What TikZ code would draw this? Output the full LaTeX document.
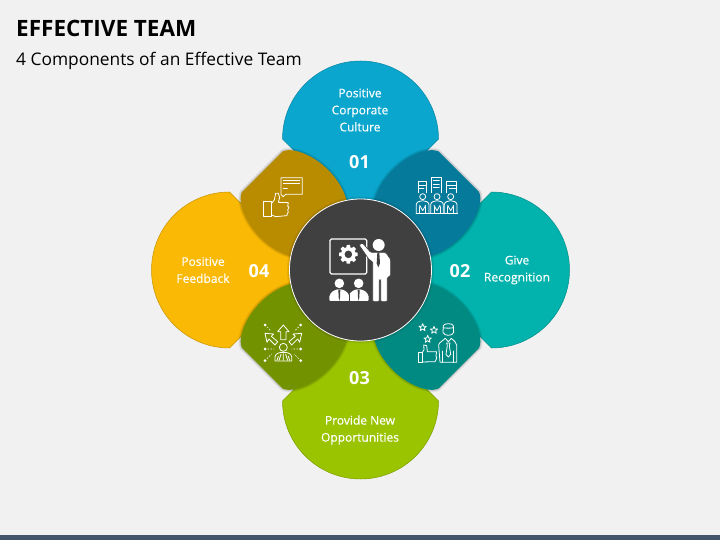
\documentclass[tikz,border=0pt]{standalone}
\usepackage{fontspec}
\setmainfont{Open Sans}
\definecolor{bgc}{HTML}{F1F1F1}
\definecolor{barc}{HTML}{44546A}
\definecolor{darkc}{HTML}{404040}
\definecolor{ptop}{HTML}{0AA6CD}
\definecolor{pright}{HTML}{02B2AC}
\definecolor{pbottom}{HTML}{9BC400}
\definecolor{pleft}{HTML}{F9B905}
\definecolor{ltr}{HTML}{067A9A}
\definecolor{lbr}{HTML}{008A82}
\definecolor{lbl}{HTML}{739200}
\definecolor{ltl}{HTML}{B98C00}
\tikzset{
  petaltext/.style={text=white,align=center,font=\fontsize{12}{17}\selectfont\addfontfeature{FakeBold=0.35},inner sep=0pt},
  numtext/.style={text=white,font=\fontsize{18}{20}\selectfont\bfseries,inner sep=0pt},
  iconline/.style={draw=white,line width=.8pt,line join=round,line cap=round},
  zoomed/.style={x=.33333pt,y=-.33333pt},
  softshadow/.style={draw=black,draw opacity=.06,line join=round}
}
\newcommand{\petalpath}{(-78,-131) .. controls (-78,-174.1) and (-43.1,-209) .. (0,-209) .. controls (43.1,-209) and (78,-174.1) .. (78,-131) -- (12,-65) -- (-12,-65) -- cycle}
\newcommand{\lenspath}{(-67,-119.5) .. controls (-46,-116) and (-21,-95) .. (-14,-70) -- (-10,-66) -- (-66,-10) -- (-70,-14) .. controls (-95,-21) and (-116,-46) .. (-119.5,-67) .. controls (-120,-71) and (-120,-75) .. (-118.5,-78) -- (-78,-118.5) .. controls (-75,-120) and (-71,-120) .. (-67,-119.5) -- cycle}
\newcommand{\petal}[2]{\begin{scope}[shift={(360.5,270)},rotate=#1]
  \fill[#2,draw=#2!80!black,line width=.5pt] \petalpath;
\end{scope}}
\newcommand{\lens}[2]{\begin{scope}[shift={(360.5,270)},rotate=#1]
  \foreach \w in {4.5,3,1.5}{\draw[softshadow,line width=\w pt] \lenspath;}
  \fill[#2] \lenspath;
\end{scope}}
\begin{document}
\begin{tikzpicture}[x=1pt,y=-1pt]
\useasboundingbox (0,0) rectangle (720,540);
\fill[bgc] (0,0) rectangle (720,540);
\fill[barc] (0,535) rectangle (720,540);
\node[anchor=base west,inner sep=0pt,font=\fontsize{22.5}{24}\selectfont\bfseries,text=black] (title) at (16,36.5) {EFFECTIVE TEAM};
\node[anchor=base west,inner sep=0pt,font=\fontsize{17.35}{20}\selectfont,text=black] (subtitle) at (16,66) {4 Components of an Effective Team};
% petals
\petal{0}{ptop}
\petal{-90}{pright}
\petal{180}{pbottom}
\petal{90}{pleft}
% lenses
\lens{0}{ltl}
\lens{-90}{ltr}
\lens{180}{lbr}
\lens{90}{lbl}
% centre
\foreach \w in {5,3}{\draw[softshadow,line width=\w pt] (360.5,270) circle[radius=71pt];}
\node[circle,fill=darkc,draw=white,line width=.8pt,minimum size=142pt,inner sep=0pt] (hub) at (360.5,270) {};
% texts
\node[petaltext] (t1) at (360,110) {Positive\\Corporate\\Culture};
\node[numtext] (n1) at (359.5,162.5) {01};
\node[petaltext] (t2) at (517,270) {Give\\Recognition};
\node[numtext] (n2) at (460,271) {02};
\node[petaltext] (t3) at (360,430) {Provide New\\Opportunities};
\node[numtext] (n3) at (359.5,378) {03};
\node[petaltext] (t4) at (203,270) {Positive\\Feedback};
\node[numtext] (n4) at (259,271) {04};
% icon: thumb + speech bubble
\begin{scope}[shift={(255,165)},zoomed]
  \draw[iconline] (78,38)--(142,38)--(142,88)--(92,88)--(84,95)--(78,88)--cycle;
  \draw[iconline] (85,47)--(134,47) (85,56)--(134,56) (85,70)--(97,70);
  \draw[iconline] (26,108)--(50,108)--(50,155)--(26,155)--cycle;
  \draw[iconline] (50,115)--(58,105)--(62,85)--(70,85)--(74,98)--(70,112)--(100,113)--(98,124)--(102,126)--(98,136)--(100,140)--(95,152)--(62,155)--(50,150);
\end{scope}
% icon: team and buildings
\begin{scope}[shift={(410,170)},zoomed]
  \draw[iconline] (25,68)--(25,35)--(50,35)--(50,68);
  \draw[iconline] (63,68)--(63,22)--(95,22)--(95,68);
  \draw[iconline] (110,68)--(110,35)--(138,35)--(138,68);
  \draw[iconline] (25,45)--(50,45) (25,55)--(42,55) (70,32)--(88,32) (70,42)--(88,42) (70,52)--(88,52) (110,45)--(138,45) (118,55)--(138,55);
  \foreach \p in {38,81,122}{
    \draw[iconline] (\p,80) circle[radius=3pt];
    \draw[iconline] (\p-19,128)--(\p-19,104) .. controls (\p-19,96) and (\p-8,92) .. (\p,92) .. controls (\p+8,92) and (\p+19,96) .. (\p+19,104)--(\p+19,128);
    \draw[iconline] (\p-9,128)--(\p-9,110) (\p+9,128)--(\p+9,110);
    \draw[iconline] (\p-9,106)--(\p,122)--(\p+9,106);
  }
  \draw[iconline] (18,131)--(143,131);
\end{scope}
% icon: arrows and person
\begin{scope}[shift={(255,315)},zoomed]
  \draw[iconline] (85,30)--(68,50)--(77,50)--(77,74)--(93,74)--(93,50)--(102,50)--cycle;
  \draw[iconline] (30,55)--(56,57)--(49,64)--(68,80)--(60,90)--(42,72)--(36,82)--cycle;
  \draw[iconline] (140,55)--(114,57)--(121,64)--(102,80)--(110,90)--(128,72)--(134,82)--cycle;
  \draw[iconline] (85,97) circle[radius=4pt];
  \draw[iconline] (60,138)--(60,125) .. controls (62,114) and (75,112) .. (85,112) .. controls (95,112) and (108,114) .. (110,125)--(110,138)--cycle;
  \draw[iconline] (85,116)--(85,136) (72,136)--(78,118) (98,136)--(92,118) (66,136)--(70,124) (104,136)--(100,124);
  \foreach \q/\r in {30/30,137/30,30/102,137/102,30/137,137/137}{\fill[white] (\q,\r) circle[radius=1.5pt];}
  \draw[white,line width=.7pt,dash pattern=on 1.5pt off 1.5pt] (36,36)--(48,48) (131,36)--(119,48) (38,102)--(58,102) (129,102)--(110,102) (36,131)--(50,117) (131,131)--(117,117);
\end{scope}
% icon: stars, thumb and person
\begin{scope}[shift={(410,315)},zoomed]
  \foreach \sx/\sy in {38/37,72/45,53/72}{
    \draw[iconline] (\sx,\sy-11)--(\sx+3,\sy-3)--(\sx+11,\sy-3)--(\sx+5,\sy+2)--(\sx+7,\sy+10)--(\sx,\sy+5)--(\sx-7,\sy+10)--(\sx-5,\sy+2)--(\sx-11,\sy-3)--(\sx-3,\sy-3)--cycle;
  }
  \draw[iconline] (24,112)--(36,112)--(36,141)--(24,141)--cycle;
  \draw[iconline] (36,114)--(42,104)--(41,90)--(50,92)--(52,110)--(80,110)--(78,122)--(80,130)--(75,140)--(36,141);
  \draw[iconline] (100,32) .. controls (102,24) and (128,24) .. (130,32)--(131,52) .. controls (128,64) and (102,64) .. (99,52)--cycle;
  \draw[iconline] (99,38) .. controls (104,40) and (125,40) .. (131,38);
  \draw[iconline] (90,142)--(86,90) .. controls (88,80) and (100,78) .. (106,70) -- (115,80) -- (124,70) .. controls (130,78) and (140,80) .. (140,90)--(140,142)--cycle;
  \draw[iconline] (110,84)--(120,84)--(118,92)--(122,118)--(115,126)--(108,118)--(112,92)--cycle;
  \draw[iconline] (98,108)--(98,142) (130,108)--(130,142);
\end{scope}
% icon: presenter in centre
\begin{scope}[shift={(320,220)},zoomed]
  \draw[white,line width=1.2pt,rounded corners=1.5pt] (30,57) rectangle (140,162);
  \foreach \a in {0,45,...,315}{
    \fill[white,rotate around={\a:(85,103)}] (80,75)--(90,75)--(92,90)--(78,90)--cycle;
  }
  \fill[white] (85,103) circle[radius=7.3pt];
  \fill[darkc] (85,103) circle[radius=3.8pt];
  \fill[white] (176,75) circle[radius=6pt];
  \filldraw[fill=white,draw=darkc,line width=.7pt,rounded corners=1.2pt] (117,75)--(127,68)--(152,97)--(197,97)--(212,118)--(212,168)--(202,172)--(202,245)--(182,245)--(182,180)--(178,180)--(178,245)--(158,245)--(158,125)--(148,120)--cycle;
  \fill[darkc] (172,98)--(178,98)--(180,130)--(175,142)--(170,130)--cycle;
  \foreach \h in {58,116}{
    \fill[white] (\h,190) circle[radius=4.8pt];
    \fill[white,rounded corners=1pt] (\h-30,243)--(\h-30,232) .. controls (\h-28,216) and (\h-12,208) .. (\h,208) .. controls (\h+12,208) and (\h+28,216) .. (\h+30,232)--(\h+30,243)--cycle;
    \fill[darkc] (\h-3,209)--(\h+3,209)--(\h+2,232)--(\h,243)--(\h-2,232)--cycle;
  }
  \draw[darkc,line width=.6pt] (87,222)--(87,243);
\end{scope}
\end{tikzpicture}
\end{document}
